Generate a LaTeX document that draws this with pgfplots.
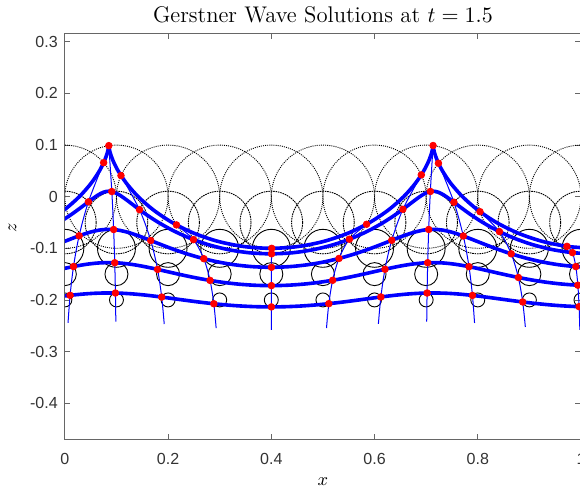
\documentclass[border=0pt]{standalone}
\usepackage{fontspec}
\usepackage{pgfplots}
\pgfplotsset{compat=1.18}
\newfontfamily\arial{Liberation Sans}
\begin{document}
\begin{tikzpicture}
\begin{axis}[
  x=257.5pt, y=257.5pt,
  xmin=0, xmax=1, ymin=-0.4706, ymax=0.3164,
  axis line style={black!60, line width=0.4pt},
  tick style={black!60, line width=0.4pt},
  major tick length=2.75pt,
  tick align=inside,
  xtick pos=both, ytick pos=both,
  xtick={0,0.2,0.4,0.6,0.8,1},
  ytick={-0.4,-0.3,-0.2,-0.1,0,0.1,0.2,0.3},
  /pgf/number format/assume math mode=true,
  tick label style={font=\arial\fontsize{8}{9}\selectfont, text=black!80},
  xticklabel style={yshift=-3.2pt},
  title={Gerstner Wave Solutions at $t = 1.5$},
  every axis title/.style={at={(axis description cs:0.5,1)}, anchor=base, yshift=5.2pt, font=\fontsize{11.3}{13}\selectfont},
  xlabel={$x$}, ylabel={$z$},
  label style={font=\fontsize{9}{10}\selectfont},
  xlabel style={at={(axis description cs:0.5,0)}, anchor=base, yshift=-23.1pt},
  ylabel style={at={(ticklabel cs:0.522)}},
  clip marker paths=true,
]
% circles (radius = r * unit length)
\addplot[only marks, mark=o, mark size=25.75pt, mark options={draw=black, line width=0.45pt, dash pattern=on 0.5pt off 0.55pt}] coordinates {
(0,0) (0.1,0) (0.2,0) (0.3,0) (0.4,0) (0.5,0) (0.6,0) (0.7,0) (0.8,0) (0.9,0) (1,0)};
\addplot[only marks, mark=o, mark size=15.618pt, mark options={draw=black, line width=0.45pt, dash pattern=on 0.8pt off 0.4pt}] coordinates {
(0,-0.05) (0.1,-0.05) (0.2,-0.05) (0.3,-0.05) (0.4,-0.05) (0.5,-0.05) (0.6,-0.05) (0.7,-0.05) (0.8,-0.05) (0.9,-0.05) (1,-0.05)};
\addplot[only marks, mark=o, mark size=9.473pt, mark options={draw=black, line width=0.45pt, solid}] coordinates {
(0,-0.1) (0.1,-0.1) (0.2,-0.1) (0.3,-0.1) (0.4,-0.1) (0.5,-0.1) (0.6,-0.1) (0.7,-0.1) (0.8,-0.1) (0.9,-0.1) (1,-0.1)};
\addplot[only marks, mark=o, mark size=5.746pt, mark options={draw=black, line width=0.45pt, solid}] coordinates {
(0,-0.15) (0.1,-0.15) (0.2,-0.15) (0.3,-0.15) (0.4,-0.15) (0.5,-0.15) (0.6,-0.15) (0.7,-0.15) (0.8,-0.15) (0.9,-0.15) (1,-0.15)};
\addplot[only marks, mark=o, mark size=3.485pt, mark options={draw=black, line width=0.45pt, solid}] coordinates {
(0,-0.2) (0.1,-0.2) (0.2,-0.2) (0.3,-0.2) (0.4,-0.2) (0.5,-0.2) (0.6,-0.2) (0.7,-0.2) (0.8,-0.2) (0.9,-0.2) (1,-0.2)};
% surface b = 0 (split at the cusps)
\addplot[blue, line width=1.8pt, smooth, no marks] coordinates {
(-0.03774,-0.05) (-0.00157,-0.02588) (0.02802,0) (0.05079,0.02588) (0.06698,0.05) (0.07727,0.07071) (0.08274,0.0866) (0.0848,0.09659) (0.0851,0.1)};
\addplot[blue, line width=1.8pt, smooth, no marks] coordinates {
(0.0851,0.1) (0.0854,0.09659) (0.08746,0.0866) (0.09293,0.07071) (0.10322,0.05) (0.11941,0.02588) (0.14218,0) (0.17177,-0.02588) (0.20794,-0.05) (0.25001,-0.07071) (0.2969,-0.0866) (0.3472,-0.09659) (0.39926,-0.1) (0.45132,-0.09659) (0.50162,-0.0866) (0.54851,-0.07071) (0.59058,-0.05) (0.62675,-0.02588) (0.65634,0) (0.67911,0.02588) (0.6953,0.05) (0.70559,0.07071) (0.71106,0.0866) (0.71312,0.09659) (0.71342,0.1)};
\addplot[blue, line width=1.8pt, smooth, no marks] coordinates {
(0.71342,0.1) (0.71372,0.09659) (0.71578,0.0866) (0.72125,0.07071) (0.73154,0.05) (0.74773,0.02588) (0.7705,0) (0.80009,-0.02588) (0.83626,-0.05) (0.87833,-0.07071) (0.92522,-0.0866) (0.97552,-0.09659) (1.02758,-0.1)};
% b = -0.05
\addplot[blue, line width=1.8pt, smooth, no marks] coordinates {
(-0.07181,-0.08033) (-0.03957,-0.0657) (-0.01133,-0.05) (0.01279,-0.0343) (0.03291,-0.01967) (0.04945,-0.00711) (0.06307,0.00253) (0.07462,0.00859) (0.0851,0.01065) (0.09558,0.00859) (0.10713,0.00253) (0.12075,-0.00711) (0.13729,-0.01967) (0.15741,-0.0343) (0.18153,-0.05) (0.20977,-0.0657) (0.24201,-0.08033) (0.27783,-0.09289) (0.31657,-0.10253) (0.35738,-0.10859) (0.39926,-0.11065) (0.44114,-0.10859) (0.48195,-0.10253) (0.52069,-0.09289) (0.55651,-0.08033) (0.58875,-0.0657) (0.61699,-0.05) (0.64111,-0.0343) (0.66123,-0.01967) (0.67777,-0.00711) (0.69139,0.00253) (0.70294,0.00859) (0.71342,0.01065) (0.7239,0.00859) (0.73545,0.00253) (0.74907,-0.00711) (0.76561,-0.01967) (0.78573,-0.0343) (0.80985,-0.05) (0.83809,-0.0657) (0.87033,-0.08033) (0.90615,-0.09289) (0.94489,-0.10253) (0.9857,-0.10859) (1.02758,-0.11065)};
% b = -0.1
\addplot[blue, line width=1.8pt, smooth, no marks] coordinates {
(-0.09248,-0.11839) (-0.06263,-0.10952) (-0.03519,-0.1) (-0.01027,-0.09048) (0.01224,-0.08161) (0.03257,-0.07399) (0.05113,-0.06814) (0.06844,-0.06447) (0.0851,-0.06321) (0.10176,-0.06447) (0.11907,-0.06814) (0.13763,-0.07399) (0.15796,-0.08161) (0.18047,-0.09048) (0.20539,-0.1) (0.23283,-0.10952) (0.26268,-0.11839) (0.29471,-0.12601) (0.32851,-0.13186) (0.36356,-0.13553) (0.39926,-0.13679) (0.43496,-0.13553) (0.47001,-0.13186) (0.50381,-0.12601) (0.53584,-0.11839) (0.56569,-0.10952) (0.59313,-0.1) (0.61805,-0.09048) (0.64056,-0.08161) (0.66089,-0.07399) (0.67945,-0.06814) (0.69676,-0.06447) (0.71342,-0.06321) (0.73008,-0.06447) (0.74739,-0.06814) (0.76595,-0.07399) (0.78628,-0.08161) (0.80879,-0.09048) (0.83371,-0.1) (0.86115,-0.10952) (0.891,-0.11839) (0.92303,-0.12601) (0.95683,-0.13186) (0.99188,-0.13553) (1.02758,-0.13679)};
% b = -0.15
\addplot[blue, line width=1.8pt, smooth, no marks] coordinates {
(-0.10502,-0.16116) (-0.07661,-0.15578) (-0.04967,-0.15) (-0.02425,-0.14422) (-0.0003,-0.13884) (0.02234,-0.13422) (0.0439,-0.13068) (0.0647,-0.12845) (0.0851,-0.12769) (0.1055,-0.12845) (0.1263,-0.13068) (0.14786,-0.13422) (0.1705,-0.13884) (0.19445,-0.14422) (0.21987,-0.15) (0.24681,-0.15578) (0.27522,-0.16116) (0.30494,-0.16578) (0.33574,-0.16932) (0.3673,-0.17155) (0.39926,-0.17231) (0.43122,-0.17155) (0.46278,-0.16932) (0.49358,-0.16578) (0.5233,-0.16116) (0.55171,-0.15578) (0.57865,-0.15) (0.60407,-0.14422) (0.62802,-0.13884) (0.65066,-0.13422) (0.67222,-0.13068) (0.69302,-0.12845) (0.71342,-0.12769) (0.73382,-0.12845) (0.75462,-0.13068) (0.77618,-0.13422) (0.79882,-0.13884) (0.82277,-0.14422) (0.84819,-0.15) (0.87513,-0.15578) (0.90354,-0.16116) (0.93326,-0.16578) (0.96406,-0.16932) (0.99562,-0.17155) (1.02758,-0.17231)};
% b = -0.2
\addplot[blue, line width=1.8pt, smooth, no marks] coordinates {
(-0.11262,-0.20677) (-0.08509,-0.2035) (-0.05845,-0.2) (-0.03273,-0.1965) (-0.0079,-0.19323) (0.01613,-0.19043) (0.03951,-0.18828) (0.06242,-0.18693) (0.0851,-0.18647) (0.10778,-0.18693) (0.13069,-0.18828) (0.15407,-0.19043) (0.1781,-0.19323) (0.20293,-0.1965) (0.22865,-0.2) (0.25529,-0.2035) (0.28282,-0.20677) (0.31115,-0.20957) (0.34013,-0.21172) (0.36958,-0.21307) (0.39926,-0.21353) (0.42894,-0.21307) (0.45839,-0.21172) (0.48737,-0.20957) (0.5157,-0.20677) (0.54323,-0.2035) (0.56987,-0.2) (0.59559,-0.1965) (0.62042,-0.19323) (0.64445,-0.19043) (0.66783,-0.18828) (0.69074,-0.18693) (0.71342,-0.18647) (0.7361,-0.18693) (0.75901,-0.18828) (0.78239,-0.19043) (0.80642,-0.19323) (0.83125,-0.1965) (0.85697,-0.2) (0.88361,-0.2035) (0.91114,-0.20677) (0.93947,-0.20957) (0.96845,-0.21172) (0.9979,-0.21307) (1.02758,-0.21353)};
% particle paths through depth (constant a)
\addplot[blue, line width=0.5pt, smooth, no marks] coordinates {(0.07519,0.06592) (0.0456,-0.01002) (0.02766,-0.07575) (0.01678,-0.13529) (0.01018,-0.19108) (0.00617,-0.24459)};
\addplot[blue, line width=0.5pt, smooth, no marks] coordinates {(0.08516,0.09889) (0.091,0.00998) (0.09454,-0.06362) (0.09669,-0.12793) (0.09799,-0.18662) (0.09878,-0.24188)};
\addplot[blue, line width=0.5pt, smooth, no marks] coordinates {(0.10877,0.04094) (0.14467,-0.02517) (0.16644,-0.08494) (0.17964,-0.14086) (0.18765,-0.19446) (0.19251,-0.24664)};
\addplot[blue, line width=0.5pt, smooth, no marks] coordinates {(0.21625,-0.05465) (0.2492,-0.08315) (0.26919,-0.1201) (0.28131,-0.16219) (0.28867,-0.2074) (0.29313,-0.25449)};
\addplot[blue, line width=0.5pt, smooth, no marks] coordinates {(0.40074,-0.1) (0.40045,-0.11065) (0.40027,-0.13679) (0.40017,-0.17231) (0.4001,-0.21353) (0.40006,-0.25821)};
\addplot[blue, line width=0.5pt, smooth, no marks] coordinates {(0.58454,-0.0534) (0.55128,-0.08239) (0.5311,-0.11964) (0.51886,-0.16192) (0.51144,-0.20723) (0.50694,-0.25438)};
\addplot[blue, line width=0.5pt, smooth, no marks] coordinates {(0.69062,0.04229) (0.65496,-0.02435) (0.63334,-0.08444) (0.62022,-0.14056) (0.61226,-0.19428) (0.60744,-0.24653)};
\addplot[blue, line width=0.5pt, smooth, no marks] coordinates {(0.71338,0.0991) (0.70812,0.01011) (0.70492,-0.06354) (0.70299,-0.12789) (0.70181,-0.18659) (0.7011,-0.24187)};
\addplot[blue, line width=0.5pt, smooth, no marks] coordinates {(0.72384,0.0648) (0.75381,-0.0107) (0.77198,-0.07616) (0.78301,-0.13554) (0.78969,-0.19123) (0.79375,-0.24468)};
\addplot[blue, line width=0.5pt, smooth, no marks] coordinates {(0.80432,-0.02908) (0.84197,-0.06764) (0.8648,-0.1107) (0.87865,-0.15649) (0.88705,-0.20394) (0.89215,-0.25239)};
\addplot[blue, line width=0.5pt, smooth, no marks] coordinates {(0.97277,-0.09622) (0.98348,-0.10836) (0.98998,-0.1354) (0.99392,-0.17147) (0.99631,-0.21302) (0.99776,-0.2579)};
% particles
\addplot[only marks, mark=*, mark size=1.65pt, mark options={draw=red, fill=red, solid}] coordinates {
(0.07519,0.06592) (0.0456,-0.01002) (0.02766,-0.07575) (0.01678,-0.13529) (0.01018,-0.19108)
(0.08516,0.09889) (0.091,0.00998) (0.09454,-0.06362) (0.09669,-0.12793) (0.09799,-0.18662)
(0.10877,0.04094) (0.14467,-0.02517) (0.16644,-0.08494) (0.17964,-0.14086) (0.18765,-0.19446)
(0.21625,-0.05465) (0.2492,-0.08315) (0.26919,-0.1201) (0.28131,-0.16219) (0.28867,-0.2074)
(0.40074,-0.1) (0.40045,-0.11065) (0.40027,-0.13679) (0.40017,-0.17231) (0.4001,-0.21353)
(0.58454,-0.0534) (0.55128,-0.08239) (0.5311,-0.11964) (0.51886,-0.16192) (0.51144,-0.20723)
(0.69062,0.04229) (0.65496,-0.02435) (0.63334,-0.08444) (0.62022,-0.14056) (0.61226,-0.19428)
(0.71338,0.0991) (0.70812,0.01011) (0.70492,-0.06354) (0.70299,-0.12789) (0.70181,-0.18659)
(0.72384,0.0648) (0.75381,-0.0107) (0.77198,-0.07616) (0.78301,-0.13554) (0.78969,-0.19123)
(0.80432,-0.02908) (0.84197,-0.06764) (0.8648,-0.1107) (0.87865,-0.15649) (0.88705,-0.20394)
(0.97277,-0.09622) (0.98348,-0.10836) (0.98998,-0.1354) (0.99392,-0.17147) (0.99631,-0.21302)};
\end{axis}
\pgfresetboundingbox
\path ([shift={(-32.35pt,-24.5pt)}]current axis.south west) rectangle ([shift={(-0.5pt,16.65pt)}]current axis.north east);
\end{tikzpicture}
\end{document}
